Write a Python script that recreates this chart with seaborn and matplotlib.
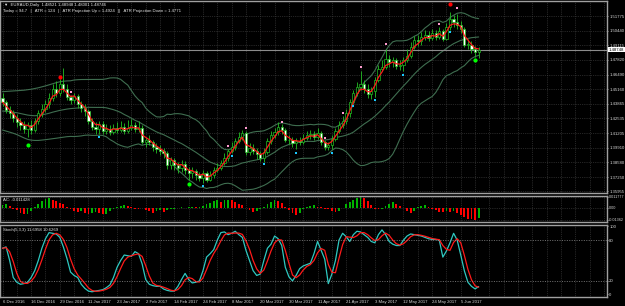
import numpy as np
import pandas as pd
import matplotlib
matplotlib.use("Agg")
import matplotlib.pyplot as plt
from matplotlib.transforms import blended_transform_factory
import seaborn as sns

# EURAUD daily, prices in 1e-4 units
opens = [14440, 14400, 14330, 14300, 14260, 14220, 14195, 14160, 14190, 14150,
         14230, 14300, 14340, 14380, 14440, 14520, 14480, 14560, 14520, 14450,
         14420, 14460, 14380, 14350, 14320, 14230, 14180, 14160, 14200, 14140,
         14160, 14130, 14170, 14150, 14180, 14140, 14170, 14190, 14160, 14170,
         14040, 14060, 14040, 14000, 13980, 13960, 13940, 13830, 13880, 13830,
         13810, 13840, 13790, 13760, 13780, 13740, 13720, 13760, 13700, 13740,
         13790, 13810, 13850, 13900, 13960, 14000, 14050, 14090, 14120, 13950,
         13990, 13960, 13930, 13900, 13950, 14050, 14100, 14130, 14180, 14150,
         14060, 14060, 14030, 14050, 14040, 14080, 14100, 14110, 14090, 14120,
         14040, 14000, 14010, 14070, 14140, 14190, 14230, 14300, 14400, 14480,
         14540, 14560, 14520, 14470, 14500, 14600, 14700, 14720, 14790, 14760,
         14780, 14730, 14740, 14780, 14820, 14900, 14960, 14950, 14990, 15010,
         14980, 15020, 14990, 15040, 14970, 15080, 15150, 15120, 15100, 15060,
         14920, 14920, 14880, 14852]
highs = [14480, 14420, 14370, 14330, 14290, 14260, 14230, 14220, 14240, 14260,
         14330, 14380, 14420, 14480, 14560, 14590, 14610, 14708, 14560, 14465,
         14480, 14470, 14410, 14380, 14340, 14260, 14220, 14230, 14230, 14200,
         14190, 14200, 14220, 14230, 14210, 14240, 14250, 14220, 14230, 14190,
         14090, 14100, 14060, 14030, 14010, 13990, 13960, 13910, 13900, 13860,
         13880, 13870, 13820, 13820, 13800, 13770, 13790, 13780, 13780, 13820,
         13850, 13880, 13940, 13980, 14040, 14080, 14130, 14150, 14140, 14030,
         14020, 13990, 13960, 13990, 14080, 14140, 14170, 14220, 14200, 14170,
         14100, 14090, 14080, 14090, 14110, 14140, 14150, 14140, 14170, 14140,
         14060, 14040, 14100, 14170, 14230, 14280, 14340, 14430, 14510, 14580,
         14680, 14600, 14560, 14540, 14630, 14740, 14780, 14880, 14830, 14810,
         14800, 14780, 14810, 14880, 14940, 15000, 15010, 15030, 15050, 15040,
         15060, 15050, 15080, 15060, 15110, 15214, 15190, 15200, 15130, 15080,
         14970, 14950, 14910, 14895]
lows = [14370, 14300, 14260, 14220, 14180, 14150, 14120, 14090, 14110, 14130,
        14200, 14270, 14310, 14350, 14410, 14450, 14460, 14490, 14420, 14380,
        14390, 14350, 14310, 14280, 14200, 14150, 14110, 14110, 14110, 14110,
        14100, 14110, 14120, 14130, 14110, 14120, 14150, 14130, 14130, 14020,
        14000, 14010, 13960, 13940, 13920, 13900, 13800, 13800, 13790, 13760,
        13770, 13750, 13700, 13720, 13700, 13690, 13670, 13680, 13690, 13720,
        13770, 13790, 13830, 13870, 13940, 13970, 14030, 14060, 13920, 13920,
        13930, 13890, 13870, 13860, 13930, 14020, 14080, 14100, 14110, 14040,
        14020, 14000, 13980, 14010, 14020, 14060, 14070, 14060, 14070, 14010,
        13970, 13970, 13980, 14050, 14120, 14170, 14200, 14270, 14390, 14460,
        14510, 14480, 14440, 14430, 14450, 14580, 14680, 14700, 14720, 14720,
        14700, 14690, 14680, 14760, 14800, 14880, 14910, 14920, 14960, 14950,
        14960, 14960, 14970, 14950, 14960, 15050, 15080, 15060, 15020, 14900,
        14880, 14840, 14810, 14800]
closes = [14400, 14330, 14300, 14260, 14220, 14195, 14160, 14190, 14150, 14230,
          14300, 14340, 14380, 14440, 14520, 14480, 14560, 14520, 14450, 14420,
          14460, 14380, 14350, 14320, 14230, 14180, 14160, 14200, 14140, 14160,
          14130, 14170, 14150, 14180, 14140, 14170, 14190, 14160, 14170, 14040,
          14060, 14040, 14000, 13980, 13960, 13940, 13830, 13880, 13830, 13810,
          13840, 13790, 13760, 13780, 13740, 13720, 13760, 13700, 13740, 13790,
          13810, 13850, 13900, 13960, 14000, 14050, 14090, 14120, 13950, 13990,
          13960, 13930, 13900, 13950, 14050, 14100, 14130, 14180, 14150, 14060,
          14060, 14030, 14050, 14040, 14080, 14100, 14110, 14090, 14120, 14040,
          14000, 14010, 14070, 14140, 14190, 14230, 14300, 14400, 14480, 14540,
          14560, 14520, 14470, 14500, 14600, 14700, 14720, 14790, 14760, 14780,
          14730, 14740, 14780, 14820, 14900, 14960, 14950, 14990, 15010, 14980,
          15020, 14990, 15040, 14970, 15080, 15150, 15120, 15100, 15060, 14920,
          14920, 14880, 14852, 14875]

# Bollinger band values before a full 20-bar window is available
bb_upper_start = [1.4495, 1.4497, 1.4499, 1.4500, 1.4502, 1.4505, 1.4508, 1.4512, 1.4517, 1.4523,
                  1.4530, 1.4538, 1.4547, 1.4557, 1.4567, 1.4576, 1.4584, 1.4589, 1.4592]
bb_mid_start = [1.4320, 1.4318, 1.4315, 1.4310, 1.4305, 1.4298, 1.4290, 1.4284, 1.4280, 1.4278,
                1.4280, 1.4285, 1.4292, 1.4300, 1.4310, 1.4318, 1.4326, 1.4332, 1.4338]
bb_lower_start = [1.4149, 1.4140, 1.4130, 1.4120, 1.4108, 1.4093, 1.4078, 1.4065, 1.4058, 1.4055,
                  1.4055, 1.4058, 1.4062, 1.4066, 1.4070, 1.4075, 1.4080, 1.4085, 1.4089]

# signal dots
red_dot_bars = [16, 125]
red_dot_prices = [1.4630, 1.5286]
green_dot_bars = [7, 52, 132]
green_dot_prices = [1.4014, 1.3662, 1.4781]
pink_bars = [19, 63, 68, 78, 90, 95, 100, 107, 122, 127]
pink_prices = [1.4490, 1.4005, 1.4164, 1.4224, 1.4080, 1.4305, 1.4714, 1.4925, 1.5103, 1.5247]
cyan_bars = [27, 56, 64, 73, 82, 92, 98, 104, 112, 125]
cyan_prices = [1.4086, 1.3644, 1.3918, 1.3840, 1.3942, 1.3945, 1.4370, 1.4417, 1.4643, 1.5030]

# Accelerator oscillator (x 0.001)
ac_vals = [3.0, 4.5, 2.0, -1.0, -3.0, -5.5, -7.5, -7.0, -4.0, 1.0,
           4.0, 7.0, 9.5, 11.0, 9.0, 7.0, 5.5, 4.0, 1.0, -2.0,
           -3.5, -5.0, -4.0, -5.5, -7.0, -6.0, -4.5, -5.5, -7.5, -6.5,
           -4.0, -2.0, 0.5, 1.5, 2.5, 1.5, 0.5, -1.0, -1.5, -0.5,
           -2.5, -4.0, -5.5, -4.0, -3.0, -4.5, -3.0, -2.0, -1.0, -0.5,
           0.5, -0.5, 0.5, 1.0, 0.5, 0.8, 2.0, 3.5, 5.5, 7.5,
           8.0, 6.5, 8.5, 9.0, 8.0, 6.5, 4.5, 2.5, -0.5, -2.5,
           -5.0, -4.0, -2.0, 0.5, 3.5, 6.5, 8.5, 7.5, 5.0, 1.0,
           -3.0, -5.5, -8.0, -5.5, -2.0, 0.5, 1.5, 2.5, 1.0, 0.5,
           -1.0, -2.0, -3.5, -5.0, -4.0, -0.5, 3.5, 6.5, 9.0, 11.0,
           11.8, 10.5, 7.0, 3.0, -1.0, -2.0, -1.0, 1.5, 4.0, 6.5,
           4.5, 2.0, -0.5, -3.5, -5.5, -4.0, 0.5, 1.5, 2.5, 1.0,
           -1.5, -3.0, -4.5, -5.0, -4.0, -4.5, -3.5, -5.5, -8.0, -10.0,
           -12.0, -12.5, -13.6, -11.4]

# Stochastic %K (5,3,3)
stoch_k = [68, 70, 50, 25, 18, 15, 16, 18, 25, 35,
           50, 68, 82, 91, 90, 89, 84, 70, 53, 33,
           28, 25, 15, 9, 5, 4, 5, 6, 7, 10,
           14, 25, 40, 50, 58, 57, 56, 63, 60, 45,
           22, 15, 13, 12, 12, 8, 6, 5, 5, 12,
           22, 31, 22, 17, 18, 20, 35, 55, 60, 66,
           80, 91, 92, 88, 90, 93, 88, 84, 65, 50,
           35, 28, 30, 50, 68, 74, 86, 82, 72, 40,
           26, 20, 28, 38, 42, 44, 46, 60, 78, 65,
           52, 16, 30, 50, 80, 90, 85, 78, 88, 93,
           92, 88, 84, 78, 76, 88, 95, 88, 78, 74,
           72, 72, 80, 86, 89, 88, 87, 86, 84, 82,
           81, 81, 80, 55, 64, 76, 90, 80, 58, 35,
           18, 12, 8.2, 11.7]

date_labels = ["6 Dec 2016", "16 Dec 2016", "29 Dec 2016", "11 Jan 2017", "23 Jan 2017",
               "2 Feb 2017", "14 Feb 2017", "24 Feb 2017", "8 Mar 2017", "20 Mar 2017",
               "30 Mar 2017", "11 Apr 2017", "21 Apr 2017", "3 May 2017", "12 May 2017",
               "24 May 2017", "5 Jun 2017"]
price_ticks = [1.51775, 1.50440, 1.49115, 1.47820, 1.46490, 1.45160, 1.43865,
               1.42535, 1.41205, 1.39910, 1.38580, 1.37250, 1.35955]

df = pd.DataFrame({"open": opens, "high": highs, "low": lows, "close": closes}) / 10000.0
df["bar"] = np.arange(len(df))
mid = df["close"].rolling(20).mean()
sd = df["close"].rolling(20).std(ddof=0)
n0 = len(bb_mid_start)
df["bb_mid"] = mid
df["bb_up"] = mid + 2 * sd
df["bb_lo"] = mid - 2 * sd
df.loc[:n0 - 1, "bb_mid"] = bb_mid_start
df.loc[:n0 - 1, "bb_up"] = bb_upper_start
df.loc[:n0 - 1, "bb_lo"] = bb_lower_start
df["ma"] = df["close"].ewm(span=3, adjust=False).mean()
df["ac"] = np.array(ac_vals) / 1000.0
df["k"] = stoch_k
df["d"] = df["k"].rolling(3, min_periods=1).mean()

sns.set_style("dark", {"axes.facecolor": "black", "figure.facecolor": "black",
                       "axes.edgecolor": "#a0a0a0", "grid.color": "#4a4a4a",
                       "grid.linestyle": ":", "xtick.color": "#d8d8d8",
                       "ytick.color": "#d8d8d8", "text.color": "#e6e6e6"})
plt.rcParams["font.family"] = ["Liberation Sans", "DejaVu Sans"]
FS = 3.1

W, H = 625, 306
fig = plt.figure(figsize=(W / 100, H / 100), dpi=100, facecolor="black")


def panel(top, bottom):
    return fig.add_axes([0, 1 - bottom / H, 607 / W, (bottom - top) / H])


ax = panel(1, 193)
ax_ac = panel(196, 222)
ax_st = panel(225, 297)

xlim = (-0.70, 168.85)
for a in (ax, ax_ac, ax_st):
    a.set_facecolor("black")
    a.set_xlim(*xlim)
    a.set_xticks(np.arange(0, 169, 4), minor=True)
    a.set_xticks(np.arange(0, 129, 8))
    a.grid(True, which="both", axis="x", color="#4a4a4a", ls=":", lw=0.5)
    a.yaxis.tick_right()
    a.tick_params(axis="y", labelsize=FS, length=1.0, width=0.5, pad=0.6, colors="#d8d8d8")
    a.tick_params(axis="x", which="both", length=0)
    for s in a.spines.values():
        s.set_color("#a0a0a0")
        s.set_linewidth(1.0)
for a in (ax, ax_ac):
    a.set_xticklabels([])

# ---- main price panel
green = "#22c022"
band_col = "#3f6e50"
ax.set_ylim(1.35810, 1.53128)
ax.set_yticks(price_ticks)
ax.set_yticklabels([f"{p:.5f}" for p in price_ticks])
ax.grid(True, axis="y", color="#4a4a4a", ls=":", lw=0.5)

for col in ("bb_up", "bb_mid", "bb_lo"):
    sns.lineplot(data=df, x="bar", y=col, ax=ax, color=band_col, lw=0.8, sort=False)

ax.vlines(df["bar"], df["low"], df["high"], color=green, lw=0.6, zorder=3)
body_lo = df[["open", "close"]].min(axis=1)
body_h = (df["close"] - df["open"]).abs().clip(lower=0.0002)
body_fc = np.where(df["close"] >= df["open"], "black", "white")
ax.bar(df["bar"], body_h, bottom=body_lo, width=0.62, color=body_fc,
       edgecolor=green, linewidth=0.5, zorder=4)

sns.lineplot(data=df, x="bar", y="ma", ax=ax, color="#ff1a1a", lw=0.9, sort=False, zorder=5)

sns.scatterplot(x=pink_bars, y=pink_prices, ax=ax, color="#ff9ccf", marker="s", s=3,
                linewidth=0, zorder=6)
sns.scatterplot(x=cyan_bars, y=cyan_prices, ax=ax, color="#19c8ff", marker="s", s=3,
                linewidth=0, zorder=6)
sns.scatterplot(x=red_dot_bars, y=red_dot_prices, ax=ax, color="#ff0000", s=9,
                linewidth=0, zorder=6)
sns.scatterplot(x=green_dot_bars, y=green_dot_prices, ax=ax, color="#00ff00", s=9,
                linewidth=0, zorder=6)

last = df["close"].iloc[-1]
ax.axhline(last, color="#8c8c8c", lw=0.8, zorder=2)
tr = blended_transform_factory(ax.transAxes, ax.transData)
ax.text(1.003, last, "1.48748", transform=tr, fontsize=FS, color="black",
        va="center", ha="left", clip_on=False,
        bbox=dict(boxstyle="square,pad=0.1", fc="white", ec="none"))
ax.set_xlabel("")
ax.set_ylabel("")

fig.text(4 / W, 1 - 5 / H, "\u25bc  EURAUD,Daily  1.48521 1.48948 1.48001 1.48746",
         fontsize=FS, color="#e6e6e6", va="center", ha="left")
fig.text(3 / W, 1 - 11 / H,
         "Today = 94.7   |   ATR = 124   |   ATR Projection Up = 1.4924   ||   ATR Projection Down = 1.4771",
         fontsize=FS, color="#e6e6e6", va="center", ha="left")

# ---- AC panel
ac_col = np.where(df["ac"].diff().fillna(0) >= 0, "#00b400", "#ff0000")
ax_ac.bar(df["bar"], df["ac"], width=0.5, color=ac_col, linewidth=0)
ax_ac.set_ylim(-0.01583, 0.01288)
ax_ac.set_yticks([0.011777, 0.0, -0.01362])
ax_ac.set_yticklabels(["0.011777", "0.00", "-0.01362"])
ax_ac.tick_params(axis="y", labelsize=2.7)
ax_ac.grid(True, axis="y", color="#4a4a4a", ls=":", lw=0.5)
ax_ac.text(3 / 607, 0.84, "AC: -0.011428", transform=ax_ac.transAxes, fontsize=FS,
           color="#e6e6e6", va="center", ha="left")

# ---- Stochastic panel
sns.lineplot(data=df, x="bar", y="k", ax=ax_st, color="#2ec8c0", lw=0.9, sort=False)
sns.lineplot(data=df, x="bar", y="d", ax=ax_st, color="#ff1a1a", lw=0.9, sort=False)
ax_st.set_ylim(-3.7, 102.2)
ax_st.set_yticks([100, 80, 20, 0])
ax_st.set_yticklabels(["100", "80", "20", "0"])
for lvl in (80, 20):
    ax_st.axhline(lvl, color="#9a9a9a", ls=(0, (1.5, 2)), lw=0.5)
ax_st.set_xticklabels(date_labels, ha="left")
ax_st.tick_params(axis="x", which="major", labelsize=FS, pad=0.8, length=1.5, width=0.5,
                  colors="#d8d8d8")
ax_st.set_xlabel("")
ax_st.set_ylabel("")
ax_ac.set_xlabel("")
ax_ac.set_ylabel("")
ax_st.text(3 / 607, 0.93, "Stoch(5,3,3) 11.6958 10.6269", transform=ax_st.transAxes,
           fontsize=FS, color="#e6e6e6", va="center", ha="left")

fig.savefig("out.png", dpi=100, facecolor="black")
